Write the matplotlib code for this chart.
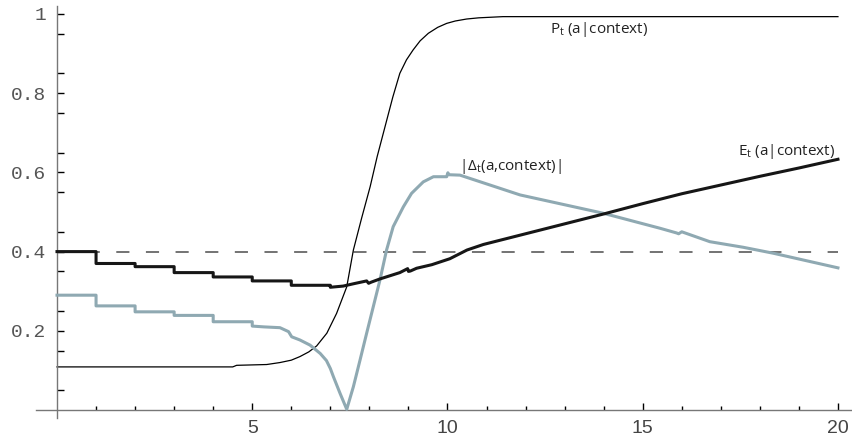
import numpy as np
import matplotlib
matplotlib.use("Agg")
import matplotlib.pyplot as plt
from matplotlib.ticker import FixedLocator

# E_t(a|context): thick black curve
e_x = [0, 1, 1, 2, 2, 3, 3, 4, 4, 5, 5, 6, 6, 7, 7, 7.33, 7.6, 7.93, 7.98,
       8.05, 8.27, 8.78, 8.98, 9.0, 9.05, 9.21, 9.6, 10.06, 10.5, 10.92, 12,
       13, 14, 15, 16, 17, 18, 19, 20]
e_y = [0.400, 0.400, 0.370, 0.370, 0.362, 0.362, 0.347, 0.347, 0.336, 0.336,
       0.326, 0.326, 0.315, 0.315, 0.310, 0.313, 0.319, 0.326, 0.320, 0.323,
       0.331, 0.347, 0.357, 0.350, 0.351, 0.358, 0.367, 0.382, 0.404, 0.418,
       0.445, 0.470, 0.495, 0.521, 0.546, 0.568, 0.590, 0.611, 0.633]

# P_t(a|context): thin black sigmoid
p_x = [0, 4.5, 4.6, 5.37, 5.71, 6.0, 6.22, 6.45, 6.65, 6.91, 7.16, 7.42, 7.59,
       7.8, 8.02, 8.2, 8.4, 8.6, 8.78, 8.95, 9.12, 9.3, 9.51, 9.75, 9.98,
       10.2, 10.49, 10.8, 11.42, 12, 20]
p_y = [0.109, 0.109, 0.113, 0.115, 0.120, 0.126, 0.135, 0.147, 0.162, 0.194,
       0.244, 0.311, 0.404, 0.484, 0.564, 0.640, 0.715, 0.790, 0.850, 0.884,
       0.909, 0.932, 0.951, 0.966, 0.976, 0.982, 0.987, 0.990, 0.993, 0.993,
       0.993]

# |Delta_t(a,context)|: grey-blue curve
d_x = [0, 1, 1, 2, 2, 3, 3, 4, 4, 5, 5, 5.3, 5.71, 5.93, 6.01, 6.22, 6.48,
       6.74, 6.9, 7.0, 7.08, 7.25, 7.42, 7.59, 7.76, 7.93, 8.1, 8.27, 8.44,
       8.61, 8.87, 9.08, 9.38, 9.64, 9.98, 10.01, 10.04, 10.32, 11.86,
       13.98, 15.44, 15.87, 15.92, 16.0, 16.72, 17.57, 18.34, 20]
d_y = [0.290, 0.290, 0.263, 0.263, 0.248, 0.248, 0.239, 0.239, 0.223, 0.223,
       0.212, 0.210, 0.208, 0.198, 0.185, 0.177, 0.164, 0.143, 0.125, 0.105,
       0.084, 0.042, 0.002, 0.059, 0.126, 0.194, 0.261, 0.328, 0.404,
       0.463, 0.513, 0.547, 0.576, 0.589, 0.589, 0.599, 0.594, 0.593, 0.543,
       0.497, 0.459, 0.447, 0.445, 0.450, 0.425, 0.411, 0.396, 0.359]

ref_level = 0.4
x_major = [5, 10, 15, 20]
y_major = [0.2, 0.4, 0.6, 0.8, 1.0]
y_labels = ["0.2", "0.4", "0.6", "0.8", "1"]

plt.rcParams["mathtext.fontset"] = "custom"
plt.rcParams["mathtext.rm"] = "Open Sans"

fig = plt.figure(figsize=(8.52, 4.41), dpi=100)
ax = fig.add_axes([0, 0, 1, 1])
ax.set_xlim(-1.46, 20.36)
ax.set_ylim(-0.078, 1.035)

ax.plot([0, 20], [ref_level, ref_level], color="#4d4d4d", lw=1.1,
        ls=(0, (8.6, 10.8)), zorder=1)
ax.plot(p_x, p_y, color="black", lw=0.9, zorder=2)
ax.plot(d_x, d_y, color="#8fa9b2", lw=2.2, zorder=3)
ax.plot(e_x, e_y, color="#161616", lw=2.2, zorder=4)

lab = dict(family="Open Sans", fontsize=11, color="#222222")
ax.text(12.62, 0.952, r"$\mathregular{P_t}$ (a|context)", **lab)
ax.text(10.29, 0.606, r"|$\mathregular{Δ_t}$(a,context)|", **lab)
ax.text(17.44, 0.644, r"$\mathregular{E_t}$ (a|context)", **lab)

# Mathematica-style crossing axes
for s in ["top", "right"]:
    ax.spines[s].set_visible(False)
ax.spines["left"].set_position(("data", 0))
ax.spines["bottom"].set_position(("data", 0))
ax.spines["left"].set_bounds(-0.02, 1.02)
ax.spines["bottom"].set_bounds(-0.54, 20.4)
for s in ["left", "bottom"]:
    ax.spines[s].set_color("#777777")
    ax.spines[s].set_linewidth(1.0)

ax.xaxis.set_major_locator(FixedLocator(x_major))
ax.xaxis.set_minor_locator(FixedLocator([i for i in range(1, 20) if i % 5]))
ax.yaxis.set_major_locator(FixedLocator(y_major))
ax.yaxis.set_minor_locator(FixedLocator([0.05 + 0.1 * i for i in range(10)]))
ax.set_xticklabels([str(v) for v in x_major], family="Liberation Sans",
                   fontsize=14, color="#444444")
ax.set_yticklabels(y_labels, family="Liberation Mono", fontsize=14,
                   color="#555555")
ax.tick_params(which="both", direction="in", color="black", width=1.0)
ax.tick_params(axis="x", which="major", length=5, pad=7)
ax.tick_params(axis="x", which="minor", length=3)
ax.tick_params(axis="y", which="major", length=5, pad=8)
ax.tick_params(axis="y", which="minor", length=5)

fig.savefig("out.png", dpi=100)
